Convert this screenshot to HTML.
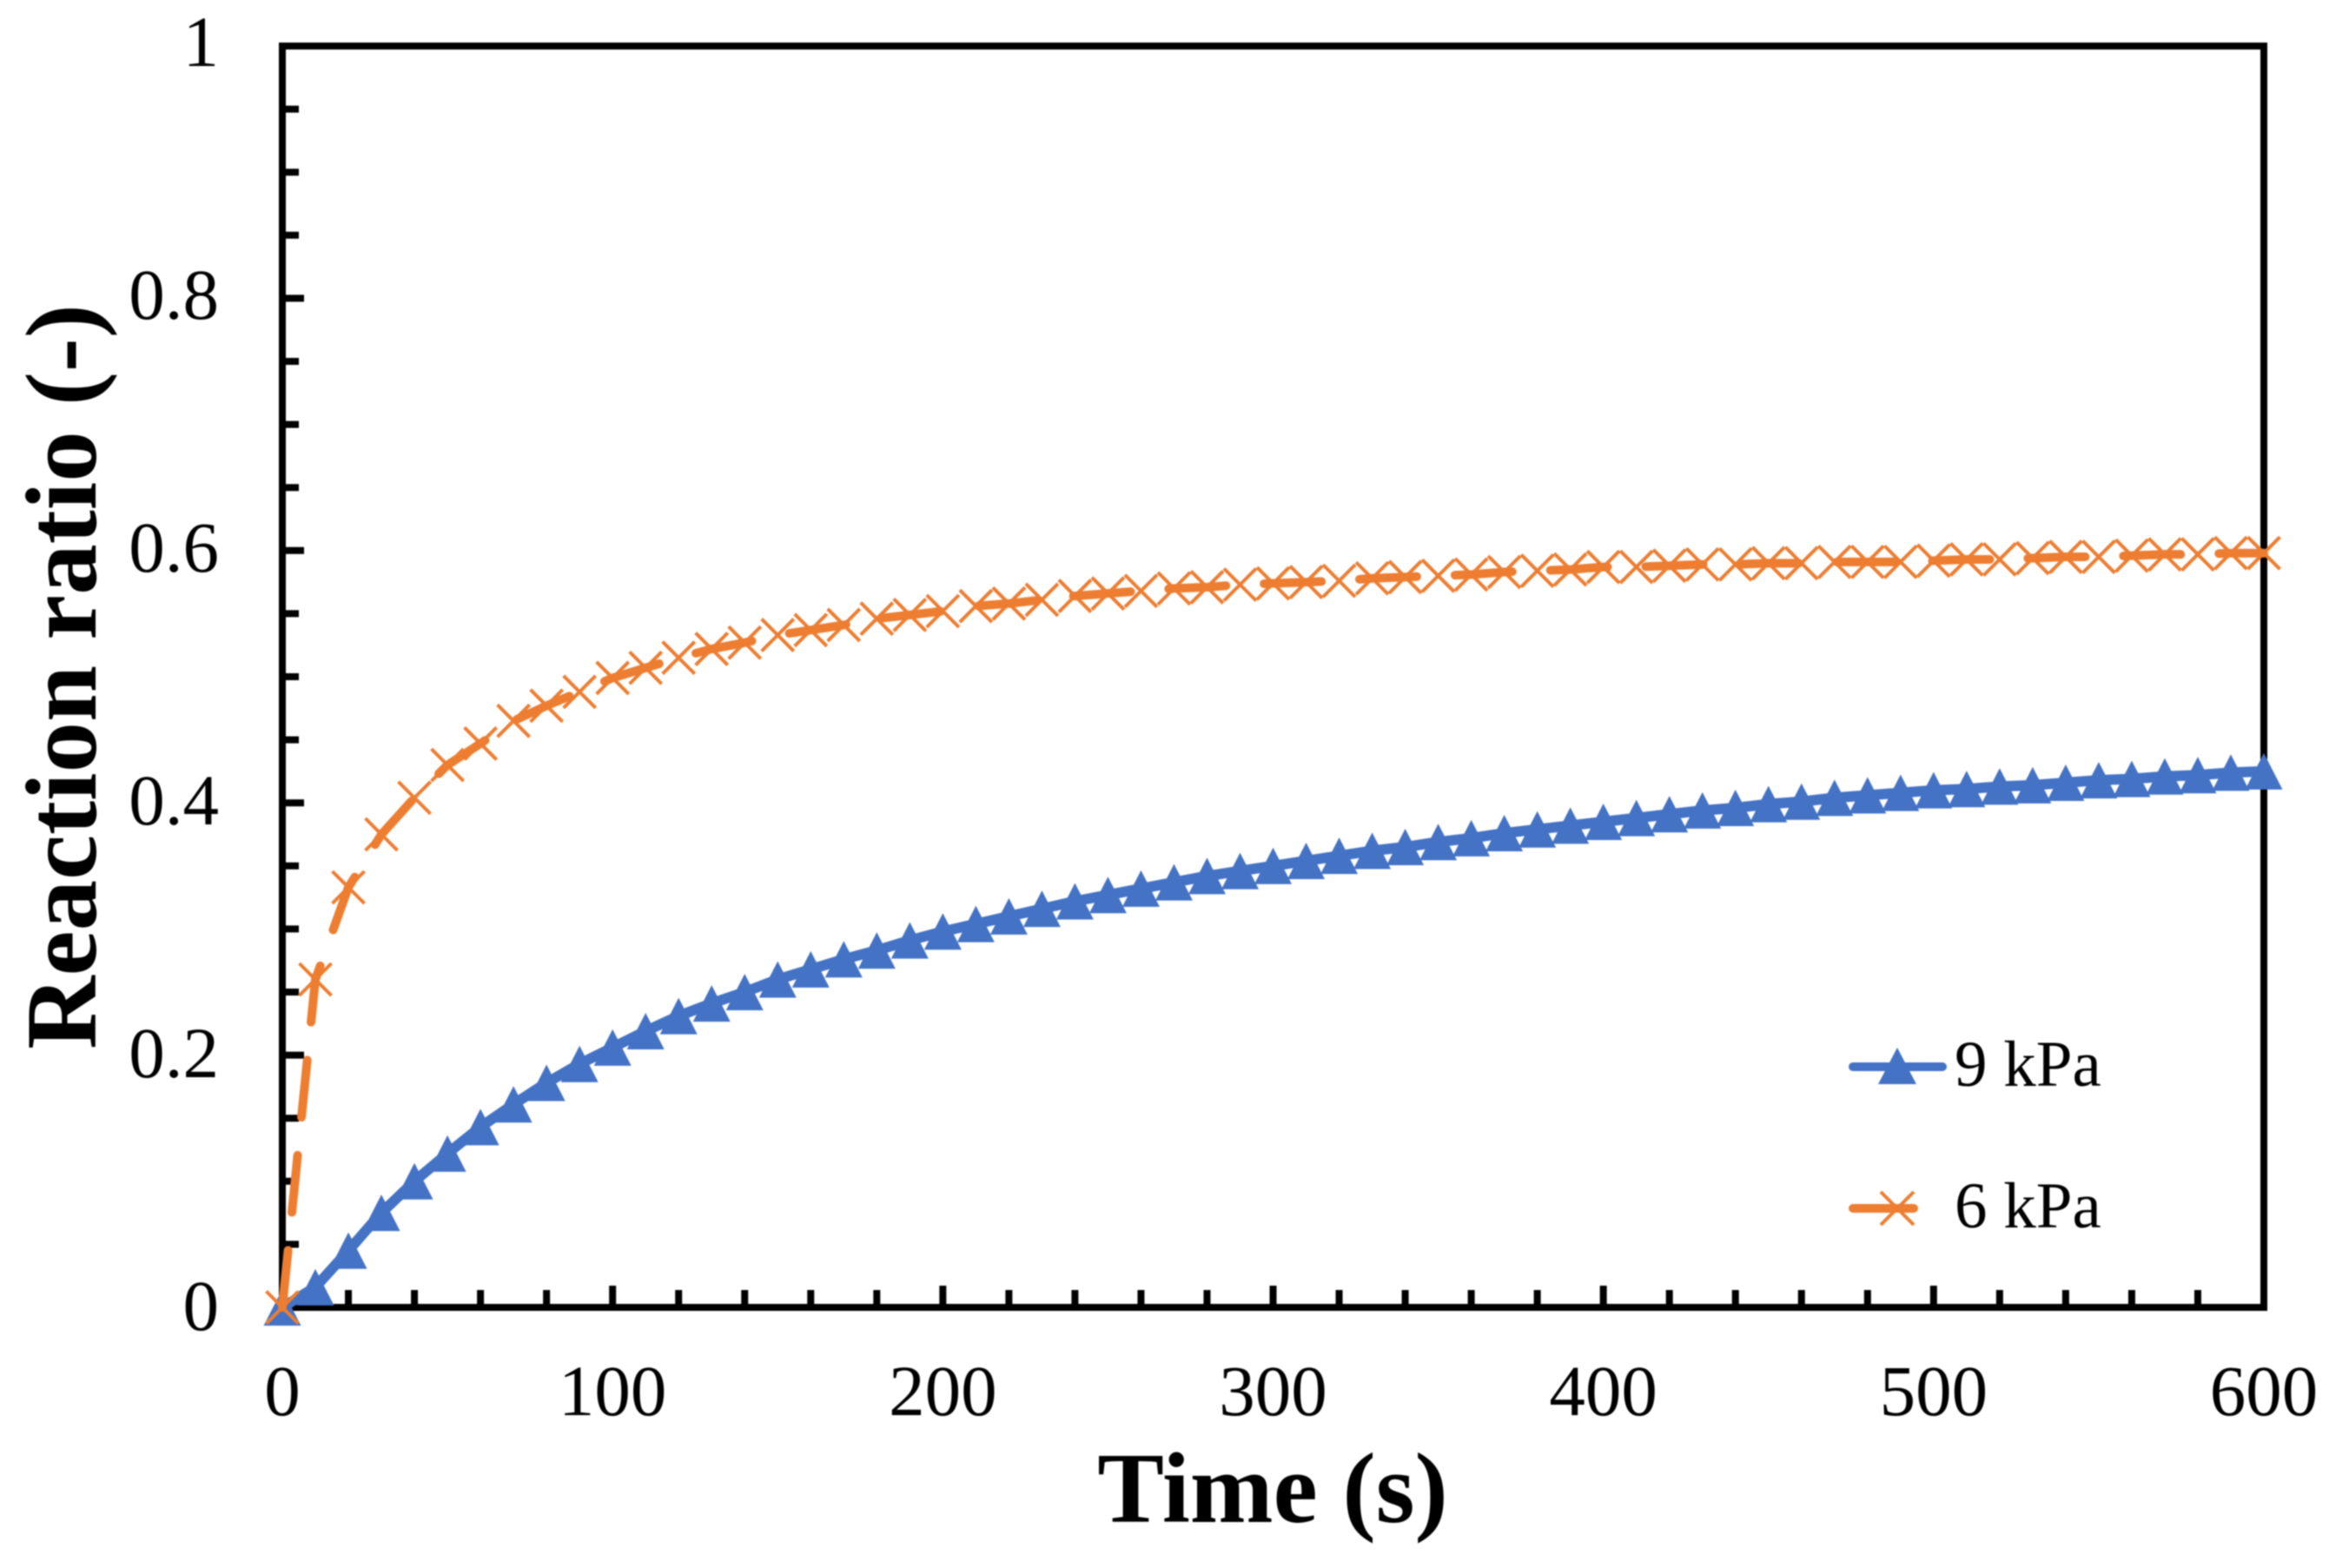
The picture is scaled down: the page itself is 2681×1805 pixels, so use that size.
<!DOCTYPE html>
<html>
<head>
<meta charset="utf-8">
<title>Reaction ratio vs time</title>
<style>
html,body{margin:0;padding:0;background:#fff;}
svg{display:block;filter:blur(0.7px);}
text{font-family:"Liberation Serif",serif;fill:#000;}
</style>
</head>
<body>
<svg id="chart" xmlns="http://www.w3.org/2000/svg" width="2681" height="1805" viewBox="0 0 2681 1805">
<rect x="0" y="0" width="2681" height="1805" fill="#ffffff"/>
<g id="axes"></g>
<g id="series"></g>
<text x="1465" y="1752" font-size="115" font-weight="bold" text-anchor="middle">Time (s)</text>
<text transform="translate(110,779) rotate(-90)" font-size="117" font-weight="bold" text-anchor="middle">Reaction ratio (-)</text>
<g>
<g>
<line x1="2133" y1="1228" x2="2236" y2="1228" stroke="#4472C4" stroke-width="10" stroke-linecap="round"/>
<polygon points="2184,1206 2206,1248 2162,1248" fill="#4472C4"/>
<text x="2250" y="1250" font-size="75">9 kPa</text>
</g>
<g>
<line x1="2133" y1="1391" x2="2203" y2="1391" stroke="#ED7D31" stroke-width="10" stroke-linecap="round"/>
<path d="M2165,1372L2203,1410M2165,1410L2203,1372" stroke="#ED7D31" stroke-width="4" fill="none"/>
<text x="2250" y="1413" font-size="75">6 kPa</text>
</g>
</g>
</svg>
<script>
const times = [0,10,20,30,40,50,60,70,80,90,100,110,120,130,140,150,160,170,180,190,200,210,220,230,240,250,260,270,280,290,300,310,320,330,340,350,360,370,380,390,400,410,420,430,440,450,460,470,480,490,500,510,520,530,540,550,560,570,580,590,600];
const series9kPa = [0,0.016,0.045,0.075,0.1,0.122,0.143,0.161,0.178,0.193,0.206,0.219,0.231,0.241,0.25,0.26,0.268,0.276,0.283,0.291,0.298,0.304,0.31,0.316,0.322,0.327,0.332,0.337,0.342,0.346,0.35,0.354,0.358,0.362,0.365,0.369,0.372,0.376,0.379,0.382,0.385,0.388,0.391,0.394,0.396,0.399,0.401,0.404,0.406,0.408,0.41,0.411,0.413,0.414,0.416,0.418,0.419,0.421,0.422,0.424,0.425];
const series6kPa = [0,0.26,0.333,0.375,0.404,0.43,0.447,0.465,0.477,0.488,0.499,0.507,0.515,0.522,0.527,0.533,0.537,0.541,0.546,0.549,0.552,0.556,0.558,0.561,0.564,0.566,0.568,0.57,0.571,0.573,0.574,0.575,0.576,0.578,0.579,0.58,0.581,0.583,0.584,0.585,0.587,0.587,0.588,0.589,0.589,0.59,0.59,0.591,0.591,0.591,0.592,0.593,0.593,0.594,0.595,0.595,0.596,0.597,0.597,0.598,0.598];
const xTickLabels = [0,100,200,300,400,500,600];
const yTickLabels = [0,0.2,0.4,0.6,0.8,1];
const xMinorTicks = [20,40,60,80,120,140,160,180,220,240,260,280,320,340,360,380,420,440,460,480,520,540,560,580];
const yMinorTicks = [0.05,0.1,0.15,0.25,0.3,0.35,0.45,0.5,0.55,0.65,0.7,0.75,0.85,0.9,0.95];

const NS = 'http://www.w3.org/2000/svg';
const LEFT = 325, RIGHT = 2606, TOP = 53, BOTTOM = 1505;
function xScale(v){ return LEFT + (v / 600) * (RIGHT - LEFT); }
function yScale(v){ return BOTTOM - v * (BOTTOM - TOP); }
function make(tag, parent){
  const el = document.createElementNS(NS, tag);
  parent.appendChild(el);
  return el;
}
function setLine(el, x1, y1, x2, y2, w){
  el.setAttribute('x1', x1); el.setAttribute('y1', y1);
  el.setAttribute('x2', x2); el.setAttribute('y2', y2);
  el.setAttribute('stroke', '#000'); el.setAttribute('stroke-width', w);
}
const axes = document.getElementById('axes');
const seriesG = document.getElementById('series');

yMinorTicks.forEach(function(v){
  const t = make('line', axes);
  
  
  setLine(t, LEFT, yScale(v), LEFT + 19, yScale(v), 8);
});
xMinorTicks.forEach(function(v){
  const t = make('line', axes);
  
  
  setLine(t, xScale(v), BOTTOM, xScale(v), BOTTOM - 20, 8);
});
yTickLabels.forEach(function(v){
  const t = make('line', axes);
  
  
  setLine(t, LEFT, yScale(v), LEFT + 25, yScale(v), 8);
  const l = make('text', axes);
  
  
  l.setAttribute('x', 252);
  l.setAttribute('y', yScale(v) + 26 - 3 * v);
  l.setAttribute('font-size', '83');
  l.setAttribute('text-anchor', 'end');
  l.textContent = String(v);
});
xTickLabels.forEach(function(v){
  const t = make('line', axes);
  
  
  setLine(t, xScale(v), BOTTOM, xScale(v), BOTTOM - 25, 8);
  const l = make('text', axes);
  
  
  l.setAttribute('x', xScale(v));
  l.setAttribute('y', BOTTOM + 124);
  l.setAttribute('font-size', '83');
  l.setAttribute('text-anchor', 'middle');
  l.textContent = String(v);
});
const frame = make('rect', axes);


frame.setAttribute('x', LEFT);
frame.setAttribute('y', TOP);
frame.setAttribute('width', RIGHT - LEFT);
frame.setAttribute('height', BOTTOM - TOP);
frame.setAttribute('fill', 'none');
frame.setAttribute('stroke', '#000');
frame.setAttribute('stroke-width', '8');

function pointsFor(values){
  return values.map(function(v, i){ return xScale(times[i]) + ',' + yScale(v); }).join(' ');
}
const line9 = make('polyline', seriesG);


line9.setAttribute('points', pointsFor(series9kPa));
line9.setAttribute('fill', 'none');
line9.setAttribute('stroke', '#4472C4');
line9.setAttribute('stroke-width', '12');
series9kPa.forEach(function(v, i){
  const cx = xScale(times[i]), cy = yScale(v);
  const m = make('polygon', seriesG);
  
  
  m.setAttribute('points', cx + ',' + (cy - 21) + ' ' + (cx + 21.5) + ',' + (cy + 21) + ' ' + (cx - 21.5) + ',' + (cy + 21));
  m.setAttribute('fill', '#4472C4');
});
const line6 = make('polyline', seriesG);


line6.setAttribute('points', pointsFor(series6kPa));
line6.setAttribute('fill', 'none');
line6.setAttribute('stroke', '#ED7D31');
line6.setAttribute('stroke-width', '10');
line6.setAttribute('stroke-linecap', 'round');
line6.setAttribute('stroke-dasharray', '66 44');
series6kPa.forEach(function(v, i){
  const cx = xScale(times[i]), cy = yScale(v), r = 18.5;
  const m = make('path', seriesG);
  
  
  m.setAttribute('d', 'M' + (cx - r) + ',' + (cy - r) + 'L' + (cx + r) + ',' + (cy + r) + 'M' + (cx - r) + ',' + (cy + r) + 'L' + (cx + r) + ',' + (cy - r));
  m.setAttribute('stroke', '#ED7D31');
  m.setAttribute('stroke-width', '4');
  m.setAttribute('fill', 'none');
});
</script>
</body>
</html>
